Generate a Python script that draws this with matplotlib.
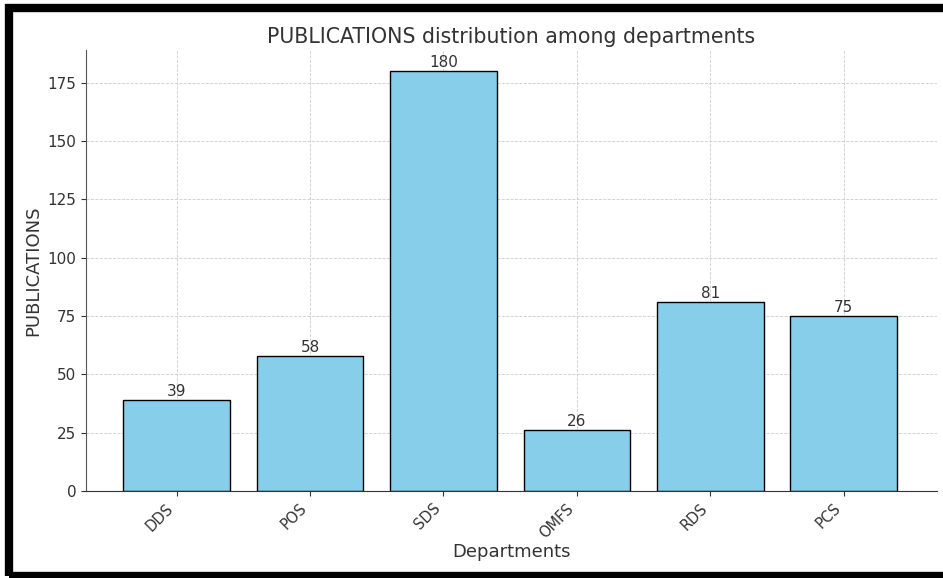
import matplotlib.pyplot as plt
from matplotlib.patches import Rectangle

departments = ['DDS', 'POS', 'SDS', 'OMFS', 'RDS', 'PCS']
publications = [39, 58, 180, 26, 81, 75]


def generate_plot():
    fig = plt.figure(figsize=(9.43, 5.78), dpi=100)
    ax = fig.add_axes([86 / 943, 87 / 578, 851 / 943, 441 / 578])

    bars = ax.bar(departments, publications, color='skyblue', edgecolor='black', width=0.8, zorder=2)
    for b, v in zip(bars, publications):
        ax.text(b.get_x() + b.get_width() / 2, v + 0.5, str(v), ha='center', va='bottom',
                fontsize=11, color='#333333')

    ax.set_title('PUBLICATIONS distribution among departments', fontsize=14.8, color='#333333', pad=5)
    ax.set_xlabel('Departments', fontsize=13, color='#333333', labelpad=2)
    ax.set_ylabel('PUBLICATIONS', fontsize=13, color='#333333')
    ax.set_xticks(range(len(departments)))
    ax.set_xticklabels(departments, rotation=45, ha='right')
    ax.tick_params(colors='#333333')
    ax.tick_params(axis='y', labelsize=11)
    ax.tick_params(axis='x', labelsize=10.5)
    ax.set_xlim(-0.68, 5.7)
    ax.set_ylim(0, 189)
    ax.grid(True, linestyle='--', color='#cccccc', linewidth=0.6, zorder=0)
    ax.spines['top'].set_visible(False)
    ax.spines['right'].set_visible(False)
    ax.spines['left'].set_color('#555555')
    ax.spines['bottom'].set_color('#333333')

    # black frame around the screenshot
    fig.patches.append(Rectangle((9 / 943, 2 / 578), 940 / 943, 568 / 578, transform=fig.transFigure,
                                 fill=False, edgecolor='black', linewidth=6))

    fig.savefig('out.png', dpi=100)
    plt.close(fig)


if __name__ == "__main__":
    generate_plot()
